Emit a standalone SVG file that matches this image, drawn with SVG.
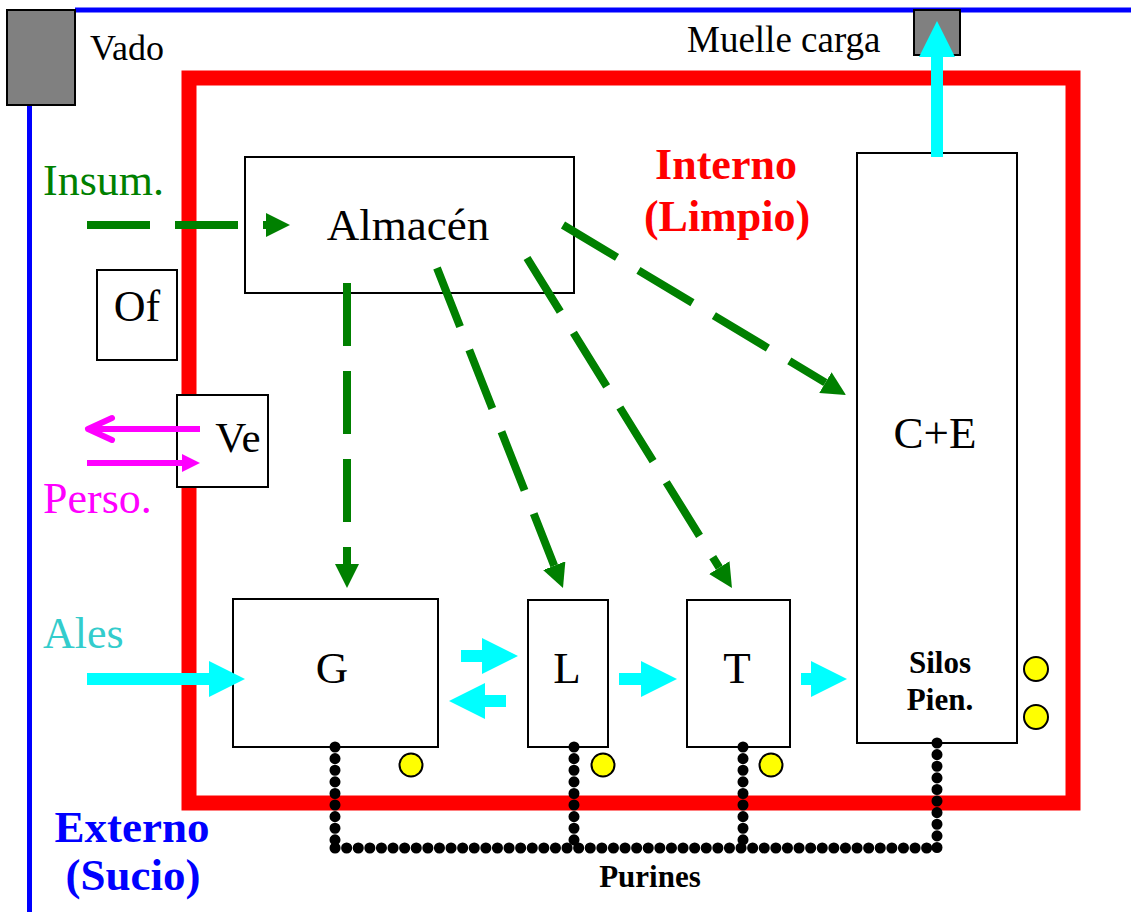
<svg xmlns="http://www.w3.org/2000/svg" width="1131" height="912" viewBox="0 0 1131 912">
<style>
text{font-family:'Liberation Serif','DejaVu Serif',serif;}
.b{font-weight:bold;}
.box{fill:#fff;stroke:#000;stroke-width:2;}
.gray{fill:#808080;stroke:#000;stroke-width:2;}
.gd{stroke:#008000;stroke-width:8;stroke-dasharray:63 25;fill:none;marker-end:url(#gh);}
.cy{stroke:#00FFFF;stroke-width:12;fill:none;marker-end:url(#ch);}
.mg{stroke:#FF00FF;stroke-width:6;fill:none;}
.pur{stroke:#000;stroke-width:11;stroke-linecap:round;stroke-dasharray:0.1 11.5;fill:none;}
.yel{fill:#FFFF00;stroke:#000;stroke-width:2;}
</style>
<defs>
<marker id="gh" markerUnits="userSpaceOnUse" markerWidth="24" markerHeight="24" refX="0" refY="12" orient="auto"><path d="M0,0 L24,12 L0,24 z" fill="#008000"/></marker>
<marker id="ch" markerUnits="userSpaceOnUse" markerWidth="36" markerHeight="36" refX="0" refY="18" orient="auto"><path d="M0,0 L36,18 L0,36 z" fill="#00FFFF"/></marker>
<marker id="mh" markerUnits="userSpaceOnUse" markerWidth="18" markerHeight="18" refX="0" refY="9" orient="auto"><path d="M0,0 L18,9 L0,18 z" fill="#FF00FF"/></marker>
</defs>
<rect width="1131" height="912" fill="#fff"/>

<g id="externo">
<line x1="75" y1="10" x2="1131" y2="10" stroke="#0000FF" stroke-width="5"/>
<line x1="29.5" y1="105" x2="29.5" y2="912" stroke="#0000FF" stroke-width="5"/>
<text class="b" x="132" y="842" font-size="45" fill="#0000FF" text-anchor="middle">Externo</text>
<text class="b" x="133" y="890" font-size="45" fill="#0000FF" text-anchor="middle">(Sucio)</text>
</g>

<g id="interno">
<rect x="189" y="78" width="884" height="725" fill="none" stroke="#FF0000" stroke-width="15"/>
<text class="b" x="726" y="179" font-size="44" fill="#FF0000" text-anchor="middle">Interno</text>
<text class="b" x="727" y="231" font-size="44" fill="#FF0000" text-anchor="middle">(Limpio)</text>
</g>

<g id="vado">
<rect class="gray" x="7" y="10" width="68" height="95"/>
<text x="90" y="60" font-size="36">Vado</text>
</g>

<g id="muelle">
<rect class="gray" x="914" y="10" width="46" height="45"/>
<text x="687" y="52" font-size="37">Muelle carga</text>
</g>

<g id="almacen">
<rect class="box" x="245" y="157" width="329" height="136"/>
<text x="408" y="240" font-size="45" text-anchor="middle">Almacén</text>
</g>

<g id="of">
<rect class="box" x="97" y="270" width="80" height="90"/>
<text x="137" y="321" font-size="44" text-anchor="middle">Of</text>
</g>

<g id="ve">
<rect class="box" x="177" y="395" width="91" height="92"/>
<text x="238" y="452" font-size="43" text-anchor="middle">Ve</text>
</g>

<g id="node-g">
<rect class="box" x="233" y="599" width="205" height="148"/>
<text x="332" y="683" font-size="45" text-anchor="middle">G</text>
<circle class="yel" cx="411" cy="765" r="11.5"/>
</g>

<g id="node-l">
<rect class="box" x="528" y="600" width="80" height="147"/>
<text x="567" y="683" font-size="45" text-anchor="middle">L</text>
<circle class="yel" cx="603" cy="765" r="11.5"/>
</g>

<g id="node-t">
<rect class="box" x="687" y="600" width="103" height="147"/>
<text x="737" y="683" font-size="45" text-anchor="middle">T</text>
<circle class="yel" cx="771" cy="765" r="11.5"/>
</g>

<g id="node-ce">
<rect class="box" x="857" y="153" width="160" height="590"/>
<text x="935" y="448" font-size="45" text-anchor="middle">C+E</text>
<text class="b" x="940" y="673" font-size="31" text-anchor="middle">Silos</text>
<text class="b" x="940" y="710" font-size="31" text-anchor="middle">Pien.</text>
<circle class="yel" cx="1036" cy="669" r="12"/>
<circle class="yel" cx="1036" cy="717" r="12"/>
</g>

<g id="labels">
<text x="43" y="195" font-size="44" fill="#008000">Insum.</text>
<text x="43" y="513" font-size="44" fill="#FF00FF">Perso.</text>
<text x="43" y="648" font-size="44" fill="#33CCCC">Ales</text>
<text class="b" x="650" y="887" font-size="31" text-anchor="middle">Purines</text>
</g>

<g id="connectors">
<line class="gd" x1="87" y1="225" x2="266" y2="225"/>
<line class="gd" x1="347" y1="283" x2="347" y2="564"/>
<line class="gd" x1="437" y1="268" x2="554.2" y2="565.7"/>
<line class="gd" x1="527" y1="258" x2="719.3" y2="567.6"/>
<line class="gd" x1="563" y1="225" x2="825.4" y2="382.6"/>
<line class="cy" x1="87" y1="679" x2="209" y2="679"/>
<line class="cy" x1="461" y1="656" x2="482" y2="656"/>
<line class="cy" x1="506" y1="701" x2="485" y2="701"/>
<line class="cy" x1="619" y1="679" x2="641" y2="679"/>
<line class="cy" x1="801" y1="679" x2="811" y2="679"/>
<line class="cy" x1="937" y1="157" x2="937" y2="57"/>
<line class="mg" x1="200" y1="429" x2="89" y2="429"/>
<polyline class="mg" points="112,418 88,429 112,440" stroke-linecap="round" stroke-linejoin="round"/>
<line class="mg" x1="87" y1="463" x2="182" y2="463" marker-end="url(#mh)"/>
<path class="pur" d="M335,747 V848"/>
<path class="pur" d="M574,747 V848"/>
<path class="pur" d="M743,747 V848"/>
<path class="pur" d="M937,743 V848"/>
<path class="pur" d="M335,848 H937"/>
</g>
</svg>
